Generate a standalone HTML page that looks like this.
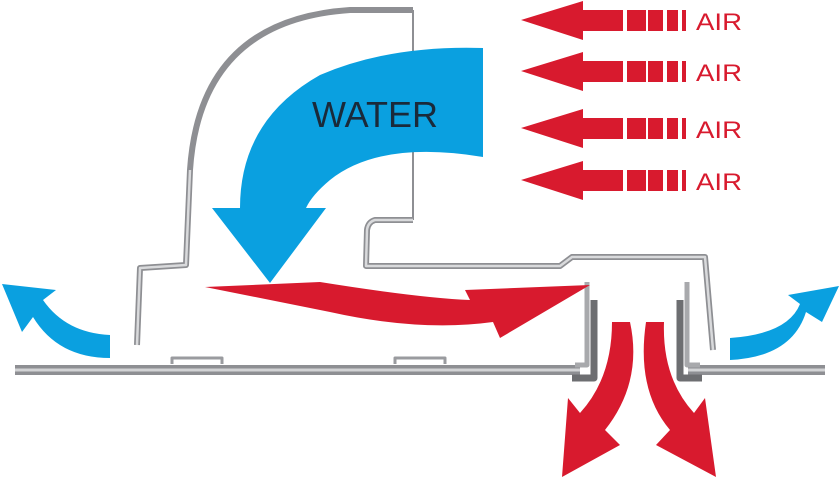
<!DOCTYPE html>
<html><head><style>html,body{margin:0;padding:0;background:#fff;width:839px;height:480px;overflow:hidden}</style></head>
<body>
<svg width="839" height="480" viewBox="0 0 839 480" xmlns="http://www.w3.org/2000/svg">
<g fill="none" stroke-linejoin="round">
<path d="M413,10 L350,10 Q200,20 190,170 L186,265 L140,268 L137,345" stroke="#8e8f93" stroke-width="6"/>
<path d="M413,10 L413,220" stroke="#8e8f93" stroke-width="2"/>
<path d="M413,220 L375,220 Q368,222 367,230 L366,266 L560,266 L572,257 L705,257 L713,350" stroke="#8e8f93" stroke-width="6"/>
<path d="M413,220 L375,220 Q368,222 367,230 L366,266 L560,266 L572,257 L705,257 L713,350" stroke="#d9dadc" stroke-width="2.5"/>
<path d="M190,170 L186,265 L140,268 L137,345" stroke="#d9dadc" stroke-width="2.5"/>
<path d="M15,370 L580,370" stroke="#8e8f93" stroke-width="10"/>
<path d="M15,370 L580,370" stroke="#d2d3d5" stroke-width="3"/>
<path d="M688,370 L825,370" stroke="#8e8f93" stroke-width="10"/>
<path d="M688,370 L825,370" stroke="#d2d3d5" stroke-width="3"/>
<path d="M172,364 L172,358 L222,358 L222,364 M395,364 L395,358 L445,358 L445,364" stroke="#9a9b9f" stroke-width="3"/>
<path d="M587,282 L587,365 L575,365" stroke="#a8a9ac" stroke-width="5"/>
<path d="M594,300 L594,378 L572,378" stroke="#6d6e71" stroke-width="7"/>
<path d="M687,282 L687,365 L700,365" stroke="#a8a9ac" stroke-width="5"/>
<path d="M680,300 L680,378 L702,378" stroke="#6d6e71" stroke-width="7"/>
</g>
<path d="M483,48 L483,157 Q380,140 330,180 Q312,195 306,208 L326,208 L270,283 L212,208 L240,208 Q240,120 320,75 Q390,45 483,48 Z" fill="#0aa0e0"/>
<text x="312" y="127" font-family="Liberation Sans Narrow, Liberation Sans, sans-serif" font-size="36" fill="#1a2a3a" textLength="126" lengthAdjust="spacingAndGlyphs">WATER</text>
<path d="M205,287 L320,282 Q420,298 470,300 L465,290 L590,285 L500,338 L493,322 Q420,332 330,312 Z" fill="#d81a2e"/>
<path d="M612,322 L630,322 Q643,382 605,430 L620,445 L562,477 L568,398 L580,413 Q612,378 612,322 Z" fill="#d81a2e"/>
<path d="M646,322 L664,322 Q662,378 694,413 L705,398 L716,477 L656,445 L670,430 Q636,390 646,322 Z" fill="#d81a2e"/>
<path d="M110,358 Q58,358 33,317 L22,332 L2,284 L56,290 L43,300 Q66,333 110,335 Z" fill="#0aa0e0"/>
<path d="M730,360 Q792,357 806,312 L822,322 L839,286 L788,295 L800,304 Q788,334 730,338 Z" fill="#0aa0e0"/>
<g fill="#d81a2e">
<g id="a"><path d="M521,20 L583,1 L583,10 L623,10 L623,31 L583,31 L583,40 Z"/><rect x="627" y="10" width="19" height="21"/><rect x="648" y="10" width="15" height="21"/><rect x="667" y="10" width="11" height="21"/><rect x="682" y="10" width="4" height="21"/></g>
<use href="#a" y="51"/><use href="#a" y="108"/><use href="#a" y="160"/>
</g>
<g font-family="Liberation Sans, sans-serif" font-size="24" fill="#d81a2e">
<text x="696" y="30" textLength="46" lengthAdjust="spacingAndGlyphs">AIR</text><text x="696" y="81" textLength="46" lengthAdjust="spacingAndGlyphs">AIR</text><text x="696" y="138" textLength="46" lengthAdjust="spacingAndGlyphs">AIR</text><text x="696" y="190" textLength="46" lengthAdjust="spacingAndGlyphs">AIR</text>
</g>
</svg>
</body></html>
